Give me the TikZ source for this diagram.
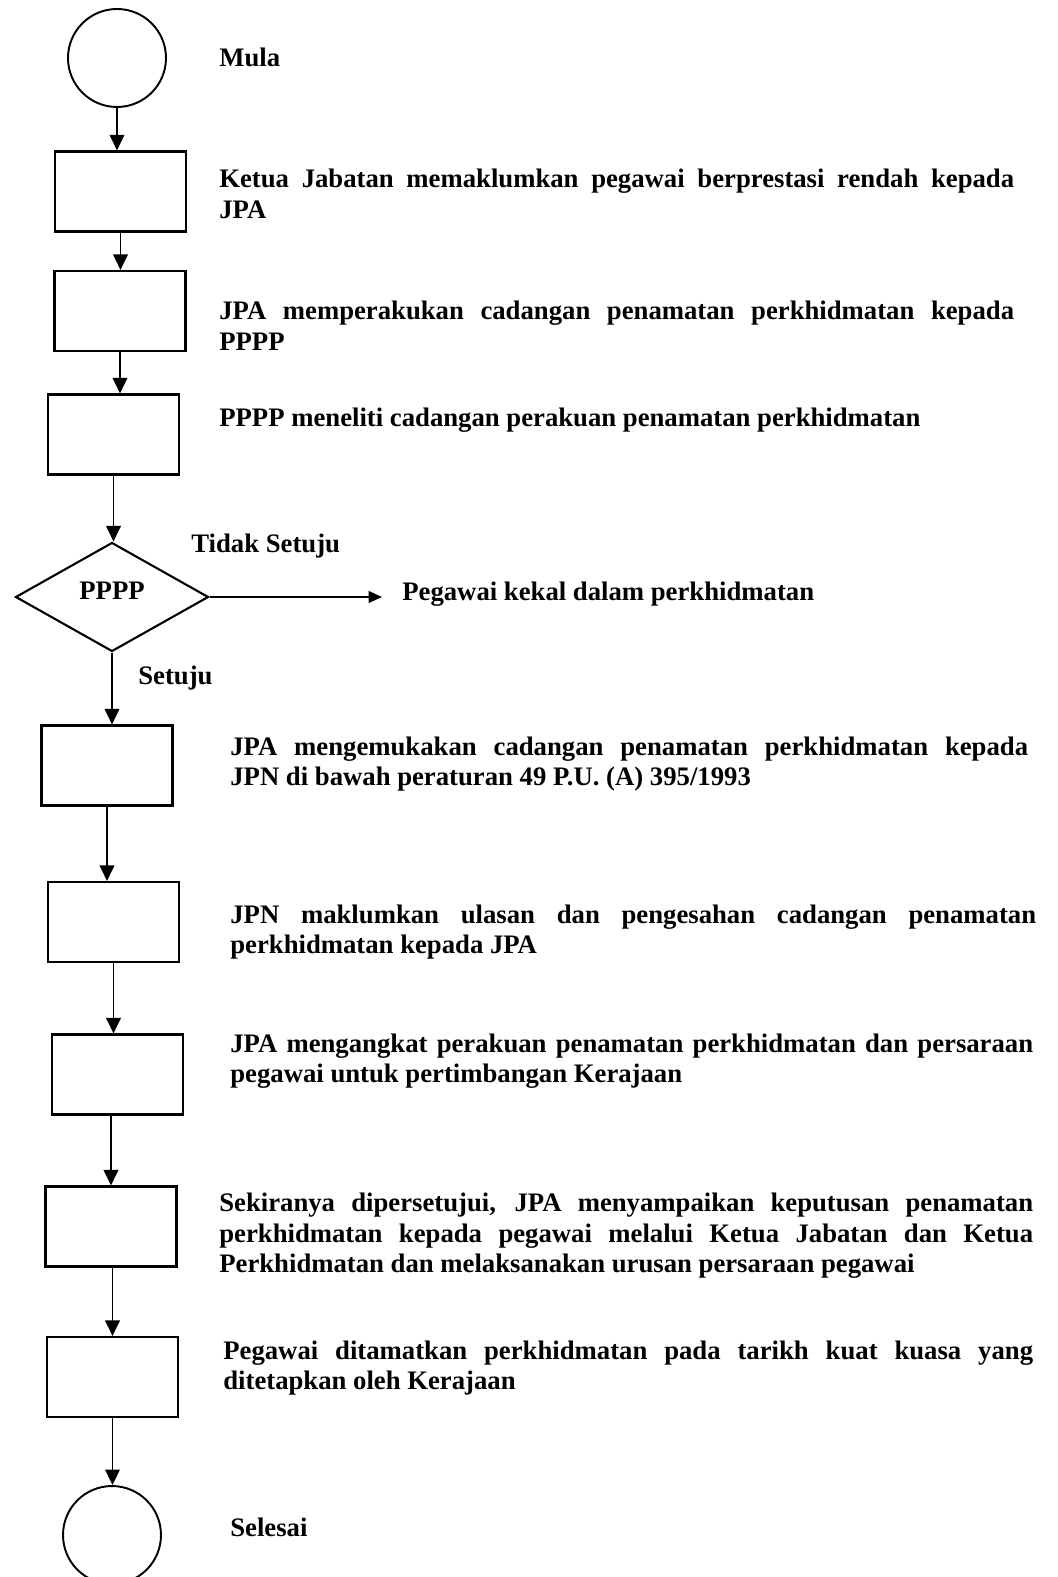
\documentclass[tikz,border=0pt]{standalone}
\usepackage{fontspec}
\setmainfont{Liberation Serif}
\usetikzlibrary{shapes.geometric,arrows.meta}
\hyphenpenalty=10000
\exhyphenpenalty=10000

\tikzset{
    terminal/.style={draw,circle,line width=1.1pt,minimum size=1.96cm},
    process/.style={draw,rectangle,line width=1.2pt,minimum width=2.62cm,minimum height=1.6cm},
    decision/.style={draw,diamond,line width=1.2pt,minimum width=3.86cm,minimum height=2.18cm},
    flow/.style={line width=1.1pt,-{Triangle[length=0.31cm,width=0.29cm]}},
    side/.style={line width=0.8pt,-{Triangle[length=0.27cm,width=0.24cm]},shorten >=0.4cm},
    note/.style={anchor=west,text width=#1,align=justify},
    tag/.style={anchor=west}
}

\begin{document}
\begin{tikzpicture}[x=0.02cm,y=-0.02cm,
    every node/.style={font=\bfseries\fontsize{15.2pt}{17.4pt}\selectfont,inner sep=0pt}]
    \clip (0,0) rectangle (1057,1577);

    \node[terminal] (mula) at (117,58) {};
    \node[process] (b1) at (120.5,191.5) {};
    \node[process] (b2) at (120,311) {};
    \node[process] (b3) at (113.5,434.5) {};
    \node[decision,text depth=0.24cm] (pppp) at (112,597) {PPPP};
    \node[process] (b4) at (107,765.5) {};
    \node[process] (b5) at (113.5,922) {};
    \node[process] (b6) at (117.5,1074.5) {};
    \node[process] (b7) at (111,1226.5) {};
    \node[process] (b8) at (112.5,1377) {};
    \node[terminal] (selesai) at (112,1535) {};

    \node[tag] (tmula) at (219,57) {Mula};
    \node[note=15.9cm] (t1) at (219,194) {Ketua Jabatan memaklumkan pegawai berprestasi rendah kepada\linebreak JPA};
    \node[note=15.9cm] (t2) at (219,326) {JPA memperakukan cadangan penamatan perkhidmatan kepada\linebreak PPPP};
    \node[tag] (t3) at (219,420) {PPPP meneliti cadangan perakuan penamatan perkhidmatan};
    \node[tag] (tidak) at (191,546) {Tidak Setuju};
    \node[tag] (kekal) at (402,594) {Pegawai kekal dalam perkhidmatan};
    \node[tag] (setuju) at (138,678) {Setuju};
    \node[note=15.96cm] (t4) at (230,764) {JPA mengemukakan cadangan penamatan perkhidmatan kepada\linebreak JPN di bawah peraturan 49 P.U. (A) 395/1993};
    \node[note=16.12cm] (t5) at (230,932) {JPN maklumkan ulasan dan pengesahan cadangan penamatan\linebreak perkhidmatan kepada JPA};
    \node[note=16.06cm] (t6) at (230,1061) {JPA mengangkat perakuan penamatan perkhidmatan dan persaraan\linebreak pegawai untuk pertimbangan Kerajaan};
    \node[note=16.28cm] (t7) at (219,1236) {Sekiranya dipersetujui, JPA menyampaikan keputusan penamatan\linebreak perkhidmatan kepada pegawai melalui Ketua Jabatan dan Ketua\linebreak Perkhidmatan dan melaksanakan urusan persaraan pegawai};
    \node[note=16.2cm] (t8) at (223,1368) {Pegawai ditamatkan perkhidmatan pada tarikh kuat kuasa yang\linebreak ditetapkan oleh Kerajaan};
    \node[tag] (tselesai) at (230,1527) {Selesai};

    \draw[flow] (mula.south) -- (mula.south |- b1.north);
    \draw[flow] (b1.south) -- (b1.south |- b2.north);
    \draw[flow] (b2.south) -- (b2.south |- b3.north);
    \draw[flow] (b3.south) -- (b3.south |- pppp.north);
    \draw[flow] (pppp.south) -- (pppp.south |- b4.north);
    \draw[side] (pppp.east) -- (pppp.east -| kekal.west);
    \draw[flow] (b4.south) -- (b4.south |- b5.north);
    \draw[flow] (b5.south) -- (b5.south |- b6.north);
    \draw[flow] (b7.north |- b6.south) -- (b7.north);
    \draw[flow] (b8.north |- b7.south) -- (b8.north);
    \draw[flow] (b8.south) -- (b8.south |- selesai.north);
\end{tikzpicture}
\end{document}
